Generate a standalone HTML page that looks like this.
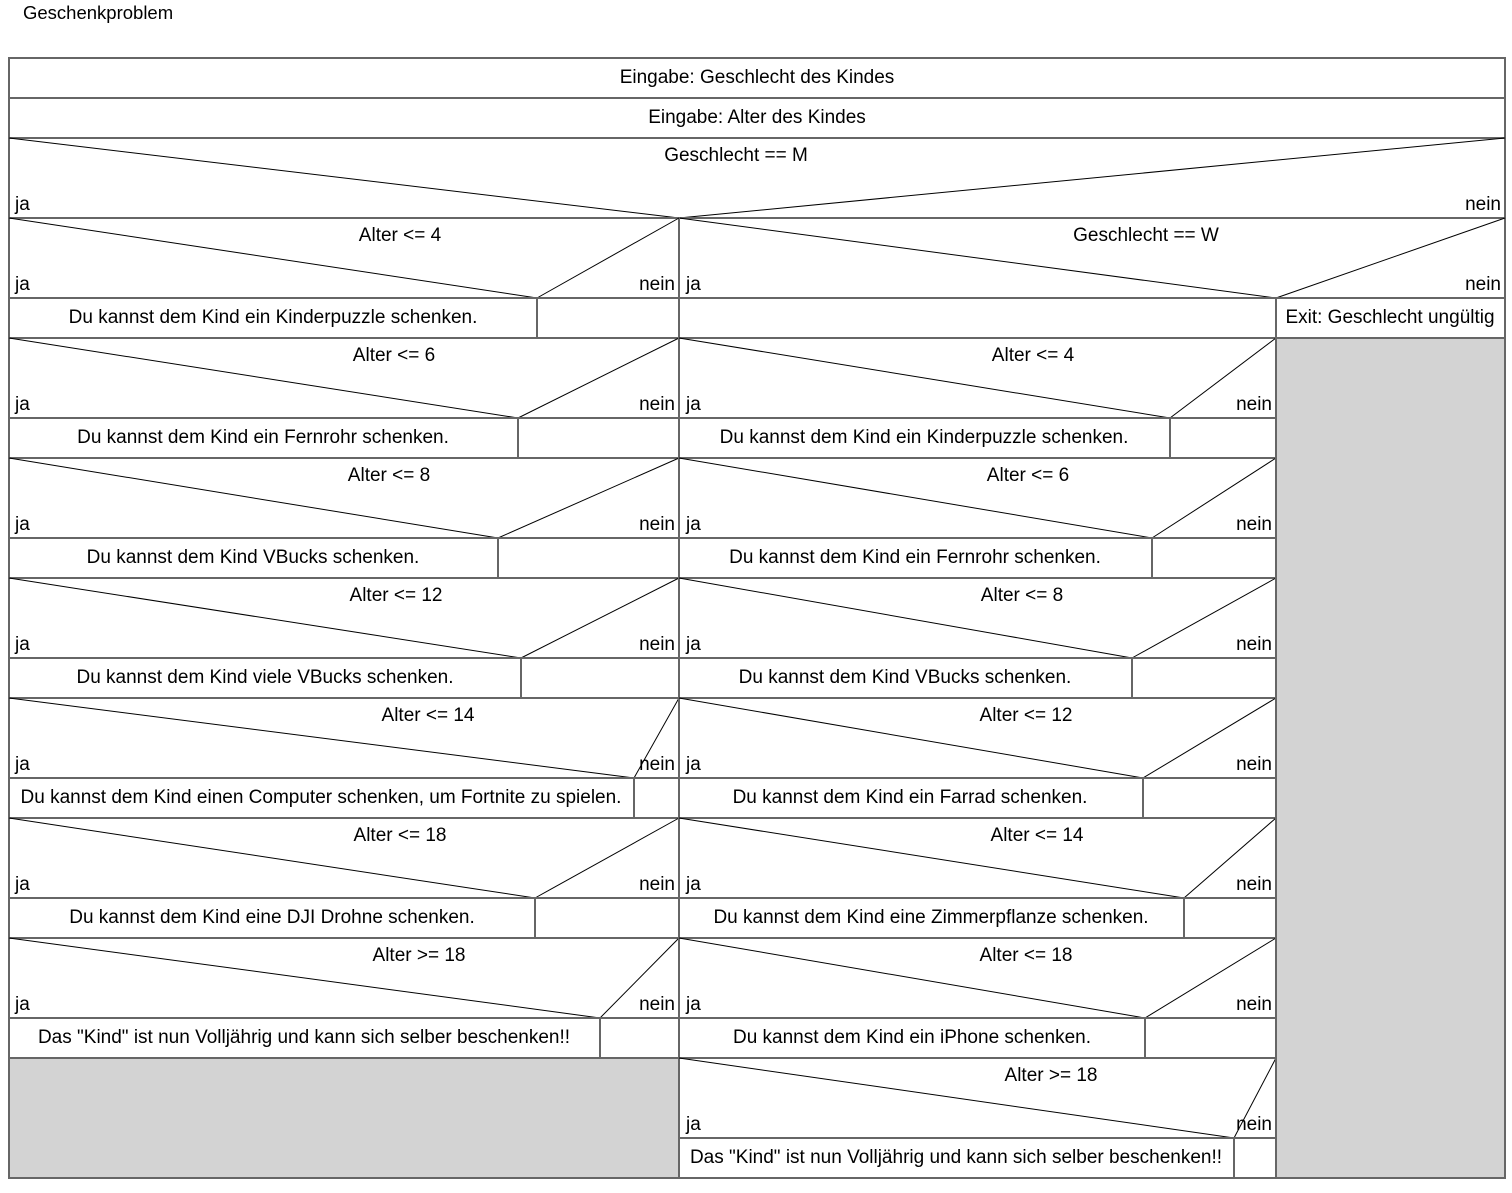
<!DOCTYPE html>
<html><head><meta charset="utf-8"><style>
html,body{margin:0;padding:0;background:#fff}
svg{display:block}
text{font-family:"Liberation Sans",Arial,sans-serif;font-size:19px;fill:#000}
.c{text-anchor:middle}.e{text-anchor:end}
.b{fill:none;stroke:#666;stroke-width:2}
.d{stroke:#000;stroke-width:1}
</style></head><body>
<svg width="1512" height="1193" viewBox="0 0 1512 1193">
<text x="23" y="19" style="font-size:18.5px">Geschenkproblem</text>
<rect x="9" y="1058" width="670" height="120" fill="#d3d3d3"/>
<rect x="1276" y="338" width="229" height="840" fill="#d3d3d3"/>
<rect class="b" x="9" y="58" width="1496" height="40"/>
<text class="c" x="757" y="83">Eingabe: Geschlecht  des Kindes</text>
<rect class="b" x="9" y="98" width="1496" height="40"/>
<text class="c" x="757" y="123">Eingabe: Alter des Kindes</text>
<rect class="b" x="9" y="138" width="1496" height="80"/>
<line class="d" x1="9" y1="138" x2="679" y2="218"/><line class="d" x1="1505" y1="138" x2="679" y2="218"/>
<text class="c" x="736" y="161">Geschlecht == M</text>
<text x="15" y="210">ja</text><text class="e" x="1501" y="210">nein</text>
<rect class="b" x="679" y="218" width="826" height="80"/>
<line class="d" x1="679" y1="218" x2="1276" y2="298"/><line class="d" x1="1505" y1="218" x2="1276" y2="298"/>
<text class="c" x="1146" y="241">Geschlecht == W</text>
<text x="686" y="290">ja</text><text class="e" x="1501" y="290">nein</text>
<rect class="b" x="679" y="298" width="597" height="40"/>
<rect class="b" x="1276" y="298" width="229" height="40"/>
<text class="c" x="1390" y="323">Exit: Geschlecht ungültig</text>
<g>
<rect class="b" x="9" y="218" width="670" height="80"/><line class="d" x1="9" y1="218" x2="537" y2="298"/><line class="d" x1="679" y1="218" x2="537" y2="298"/>
<text class="c" x="400" y="241">Alter &lt;= 4</text><text x="15" y="290">ja</text><text class="e" x="675" y="290">nein</text>
<rect class="b" x="9" y="298" width="670" height="40"/><line class="b" x1="537" y1="298" x2="537" y2="338"/>
<text class="c" x="273" y="323">Du kannst dem Kind ein Kinderpuzzle schenken.</text>

<rect class="b" x="9" y="338" width="670" height="80"/><line class="d" x1="9" y1="338" x2="518" y2="418"/><line class="d" x1="679" y1="338" x2="518" y2="418"/>
<text class="c" x="394" y="361">Alter &lt;= 6</text><text x="15" y="410">ja</text><text class="e" x="675" y="410">nein</text>
<rect class="b" x="9" y="418" width="670" height="40"/><line class="b" x1="518" y1="418" x2="518" y2="458"/>
<text class="c" x="263" y="443">Du kannst dem Kind ein Fernrohr schenken.</text>

<rect class="b" x="9" y="458" width="670" height="80"/><line class="d" x1="9" y1="458" x2="498" y2="538"/><line class="d" x1="679" y1="458" x2="498" y2="538"/>
<text class="c" x="389" y="481">Alter &lt;= 8</text><text x="15" y="530">ja</text><text class="e" x="675" y="530">nein</text>
<rect class="b" x="9" y="538" width="670" height="40"/><line class="b" x1="498" y1="538" x2="498" y2="578"/>
<text class="c" x="253" y="563">Du kannst dem Kind VBucks schenken.</text>

<rect class="b" x="9" y="578" width="670" height="80"/><line class="d" x1="9" y1="578" x2="521" y2="658"/><line class="d" x1="679" y1="578" x2="521" y2="658"/>
<text class="c" x="396" y="601">Alter &lt;= 12</text><text x="15" y="650">ja</text><text class="e" x="675" y="650">nein</text>
<rect class="b" x="9" y="658" width="670" height="40"/><line class="b" x1="521" y1="658" x2="521" y2="698"/>
<text class="c" x="265" y="683">Du kannst dem Kind viele VBucks schenken.</text>

<rect class="b" x="9" y="698" width="670" height="80"/><line class="d" x1="9" y1="698" x2="634" y2="778"/><line class="d" x1="679" y1="698" x2="634" y2="778"/>
<text class="c" x="428" y="721">Alter &lt;= 14</text><text x="15" y="770">ja</text><text class="e" x="675" y="770">nein</text>
<rect class="b" x="9" y="778" width="670" height="40"/><line class="b" x1="634" y1="778" x2="634" y2="818"/>
<text class="c" x="321" y="803">Du kannst dem Kind einen Computer schenken, um Fortnite zu spielen.</text>

<rect class="b" x="9" y="818" width="670" height="80"/><line class="d" x1="9" y1="818" x2="535" y2="898"/><line class="d" x1="679" y1="818" x2="535" y2="898"/>
<text class="c" x="400" y="841">Alter &lt;= 18</text><text x="15" y="890">ja</text><text class="e" x="675" y="890">nein</text>
<rect class="b" x="9" y="898" width="670" height="40"/><line class="b" x1="535" y1="898" x2="535" y2="938"/>
<text class="c" x="272" y="923">Du kannst dem Kind eine DJI Drohne schenken.</text>

<rect class="b" x="9" y="938" width="670" height="80"/><line class="d" x1="9" y1="938" x2="600" y2="1018"/><line class="d" x1="679" y1="938" x2="600" y2="1018"/>
<text class="c" x="419" y="961">Alter &gt;= 18</text><text x="15" y="1010">ja</text><text class="e" x="675" y="1010">nein</text>
<rect class="b" x="9" y="1018" width="670" height="40"/><line class="b" x1="600" y1="1018" x2="600" y2="1058"/>
<text class="c" x="304" y="1043">Das "Kind" ist nun Volljährig und kann sich selber beschenken!!</text>
<rect class="b" x="9" y="1058" width="670" height="120"/>
</g>
<g>
<rect class="b" x="679" y="338" width="597" height="80"/><line class="d" x1="679" y1="338" x2="1170" y2="418"/><line class="d" x1="1276" y1="338" x2="1170" y2="418"/>
<text class="c" x="1033" y="361">Alter &lt;= 4</text><text x="686" y="410">ja</text><text class="e" x="1272" y="410">nein</text>
<rect class="b" x="679" y="418" width="597" height="40"/><line class="b" x1="1170" y1="418" x2="1170" y2="458"/>
<text class="c" x="924" y="443">Du kannst dem Kind ein Kinderpuzzle schenken.</text>

<rect class="b" x="679" y="458" width="597" height="80"/><line class="d" x1="679" y1="458" x2="1152" y2="538"/><line class="d" x1="1276" y1="458" x2="1152" y2="538"/>
<text class="c" x="1028" y="481">Alter &lt;= 6</text><text x="686" y="530">ja</text><text class="e" x="1272" y="530">nein</text>
<rect class="b" x="679" y="538" width="597" height="40"/><line class="b" x1="1152" y1="538" x2="1152" y2="578"/>
<text class="c" x="915" y="563">Du kannst dem Kind ein Fernrohr schenken.</text>

<rect class="b" x="679" y="578" width="597" height="80"/><line class="d" x1="679" y1="578" x2="1132" y2="658"/><line class="d" x1="1276" y1="578" x2="1132" y2="658"/>
<text class="c" x="1022" y="601">Alter &lt;= 8</text><text x="686" y="650">ja</text><text class="e" x="1272" y="650">nein</text>
<rect class="b" x="679" y="658" width="597" height="40"/><line class="b" x1="1132" y1="658" x2="1132" y2="698"/>
<text class="c" x="905" y="683">Du kannst dem Kind VBucks schenken.</text>

<rect class="b" x="679" y="698" width="597" height="80"/><line class="d" x1="679" y1="698" x2="1143" y2="778"/><line class="d" x1="1276" y1="698" x2="1143" y2="778"/>
<text class="c" x="1026" y="721">Alter &lt;= 12</text><text x="686" y="770">ja</text><text class="e" x="1272" y="770">nein</text>
<rect class="b" x="679" y="778" width="597" height="40"/><line class="b" x1="1143" y1="778" x2="1143" y2="818"/>
<text class="c" x="910" y="803">Du kannst dem Kind ein Farrad schenken.</text>

<rect class="b" x="679" y="818" width="597" height="80"/><line class="d" x1="679" y1="818" x2="1184" y2="898"/><line class="d" x1="1276" y1="818" x2="1184" y2="898"/>
<text class="c" x="1037" y="841">Alter &lt;= 14</text><text x="686" y="890">ja</text><text class="e" x="1272" y="890">nein</text>
<rect class="b" x="679" y="898" width="597" height="40"/><line class="b" x1="1184" y1="898" x2="1184" y2="938"/>
<text class="c" x="931" y="923">Du kannst dem Kind eine Zimmerpflanze schenken.</text>

<rect class="b" x="679" y="938" width="597" height="80"/><line class="d" x1="679" y1="938" x2="1145" y2="1018"/><line class="d" x1="1276" y1="938" x2="1145" y2="1018"/>
<text class="c" x="1026" y="961">Alter &lt;= 18</text><text x="686" y="1010">ja</text><text class="e" x="1272" y="1010">nein</text>
<rect class="b" x="679" y="1018" width="597" height="40"/><line class="b" x1="1145" y1="1018" x2="1145" y2="1058"/>
<text class="c" x="912" y="1043">Du kannst dem Kind ein iPhone schenken.</text>

<rect class="b" x="679" y="1058" width="597" height="80"/><line class="d" x1="679" y1="1058" x2="1234" y2="1138"/><line class="d" x1="1276" y1="1058" x2="1234" y2="1138"/>
<text class="c" x="1051" y="1081">Alter &gt;= 18</text><text x="686" y="1130">ja</text><text class="e" x="1272" y="1130">nein</text>
<rect class="b" x="679" y="1138" width="597" height="40"/><line class="b" x1="1234" y1="1138" x2="1234" y2="1178"/>
<text class="c" x="956" y="1163">Das "Kind" ist nun Volljährig und kann sich selber beschenken!!</text>
</g>
<rect class="b" x="1276" y="338" width="229" height="840"/>
</svg>
</body></html>
